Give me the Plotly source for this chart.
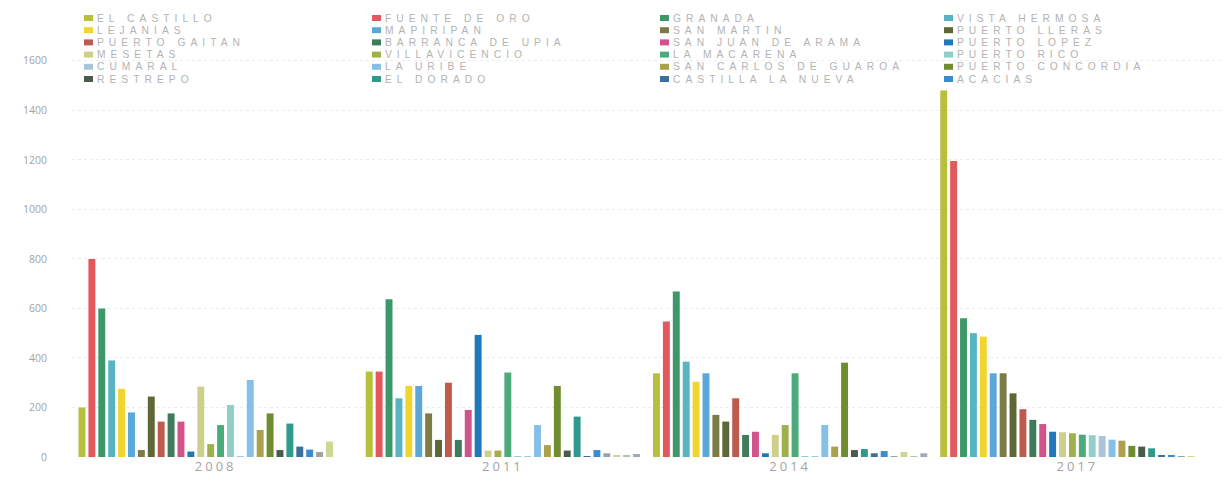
import plotly.graph_objects as go

# Years on the category axis
years = ["2008", "2011", "2014", "2017"]

# Municipalities in legend order (row by row)
municipios = [
    "EL CASTILLO", "FUENTE DE ORO", "GRANADA", "VISTA HERMOSA",
    "LEJANIAS", "MAPIRIPAN", "SAN MARTIN", "PUERTO LLERAS",
    "PUERTO GAITAN", "BARRANCA DE UPIA", "SAN JUAN DE ARAMA", "PUERTO LOPEZ",
    "MESETAS", "VILLAVICENCIO", "LA MACARENA", "PUERTO RICO",
    "CUMARAL", "LA URIBE", "SAN CARLOS DE GUAROA", "PUERTO CONCORDIA",
    "RESTREPO", "EL DORADO", "CASTILLA LA NUEVA", "ACACIAS",
    "CUBARRAL", "GUAMAL", "CABUYARO", "EL CALVARIO",
]

colores = [
    "#b6c03b", "#e3585d", "#3d9869", "#57b5c3",
    "#f2d42e", "#5ba7da", "#7d7a46", "#5e6836",
    "#bf5a4e", "#3f7a5b", "#d2528a", "#2078b9",
    "#cfcf8c", "#9fb14c", "#4cab7b", "#8fcfc7",
    "#a9c5de", "#86bfe8", "#aaa14c", "#6f8c30",
    "#4b5b4b", "#2f9a8b", "#3d6f9b", "#3a8bd1",
    "#9aa1a9", "#c9d992", "#b1c5b1", "#a1a9b9",
]

# Values per year, same order as municipios
v2008 = [200, 800, 600, 390, 275, 180, 28, 244, 143, 176, 143, 22, 284, 52,
         129, 210, 3, 311, 109, 176, 28, 135, 42, 30, 20, 62, 0, 0]
v2011 = [345, 345, 637, 237, 287, 287, 176, 69, 300, 69, 190, 493, 26, 26,
         341, 3, 3, 129, 48, 287, 26, 163, 2, 28, 15, 8, 8, 12]
v2014 = [338, 547, 668, 385, 304, 338, 170, 143, 237, 89, 102, 15, 89, 129,
         338, 2, 2, 129, 42, 381, 28, 32, 15, 24, 2, 20, 2, 15]
v2017 = [1480, 1195, 560, 500, 486, 338, 338, 257, 193, 150, 133, 102, 100, 96,
         90, 88, 85, 70, 66, 45, 42, 35, 8, 6, 4, 2, 0, 0]

W, H = 1226, 489
ML, MR, MT, MB = 72, 5, 36, 32
PW, PH = W - ML - MR, H - MT - MB

GRAY = "#a3a3a3"
FONT = "Open Sans"
LEGEND_FONT = "Liberation Sans"

fig = go.Figure()
for i, name in enumerate(municipios):
    fig.add_trace(go.Bar(
        x=years,
        y=[v2008[i], v2011[i], v2014[i], v2017[i]],
        name=name,
        marker=dict(color=colores[i], line=dict(width=0)),
        showlegend=False,
    ))


def px_x(px):
    return (px - ML) / PW


def px_y(py):
    return (H - MB - py) / PH


# Four-column legend drawn as swatches + labels
col_x = [84, 372, 660, 944]
row_y0, row_dy = 18, 12.2
annotations = []
shapes = []
for i in range(24):
    r, c = divmod(i, 4)
    cy = row_y0 + r * row_dy
    x0 = col_x[c]
    shapes.append(dict(
        type="rect", xref="paper", yref="paper",
        x0=px_x(x0), x1=px_x(x0 + 9), y0=px_y(cy + 3), y1=px_y(cy - 3),
        fillcolor=colores[i], line=dict(width=0),
    ))
    annotations.append(dict(
        xref="paper", yref="paper", x=px_x(x0 + 12), y=px_y(cy),
        xanchor="left", yanchor="middle", showarrow=False, borderpad=0,
        text='<span style="letter-spacing:5px">' + municipios[i] + "</span>",
        font=dict(family=LEGEND_FONT, size=10.3, color="#b3b3b3"),
    ))

yticks = list(range(0, 1601, 200))

fig.update_layout(
    width=W, height=H,
    margin=dict(l=ML, r=MR, t=MT, b=MB),
    paper_bgcolor="white", plot_bgcolor="white",
    barmode="group", bargap=0.035, bargroupgap=0.3,
    font=dict(family=FONT, color=GRAY),
    shapes=shapes, annotations=annotations,
    xaxis=dict(
        type="category",
        tickvals=years,
        ticktext=['<span style="letter-spacing:3px">' + y + "</span>" for y in years],
        tickfont=dict(size=13, color=GRAY),
        showgrid=False, zeroline=False, showline=False, ticks="",
    ),
    yaxis=dict(
        range=[0, 1700],
        tickvals=yticks,
        ticktext=[str(t) for t in yticks],
        tickfont=dict(size=10.5, color=GRAY),
        showgrid=True, gridcolor="#ececec", griddash="dot", gridwidth=1,
        zeroline=False, showline=False, ticks="",
        ticklabelstandoff=24,
    ),
)

fig.write_html("out.html")
